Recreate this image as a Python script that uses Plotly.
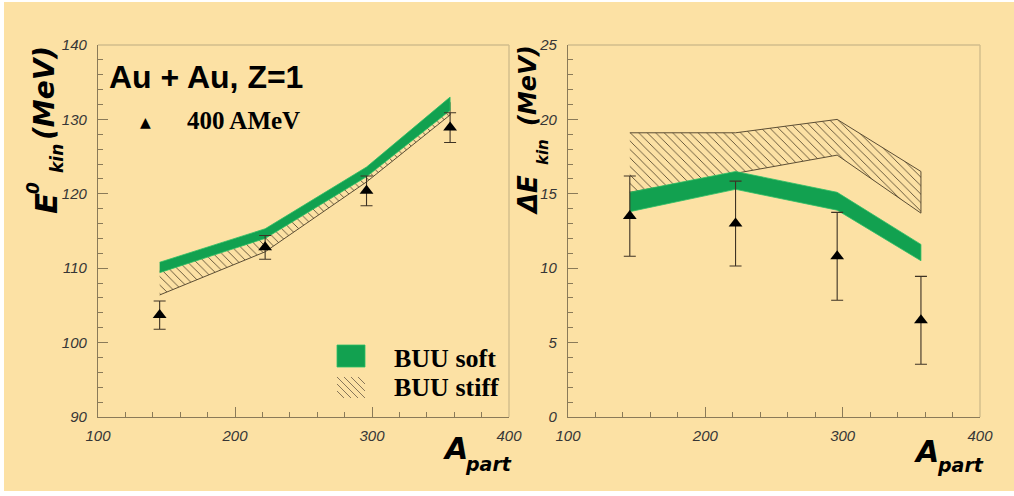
import plotly.graph_objects as go

W, H = 1014, 496

# ---- data -------------------------------------------------------------
band_apart = [145, 222, 296, 357]          # A_part of the BUU calculations
data_apart = [145, 222, 296, 357]          # A_part of the measured points

# mean kinetic energy E0_kin (MeV)
e0_soft_lo = [109.4, 114.0, 122.3, 131.2]
e0_soft_hi = [110.8, 115.3, 123.6, 133.0]
e0_stiff_lo = [106.4, 112.2, 121.6, 130.6]
e0_stiff_hi = [109.6, 114.3, 122.9, 132.3]
e0_data = [103.7, 112.8, 120.4, 128.9]
e0_err = [1.9, 1.6, 2.0, 2.0]

# width Delta E_kin (MeV)
de_soft_lo = [13.8, 15.3, 13.9, 10.5]
de_soft_hi = [15.1, 16.5, 15.1, 11.6]
de_stiff_lo = [15.1, 16.4, 17.6, 13.7]
de_stiff_hi = [19.1, 19.1, 20.0, 16.5]
de_data = [13.5, 13.0, 10.8, 6.5]
de_err = [2.7, 2.85, 2.95, 2.95]

e0_ticks = [90, 100, 110, 120, 130, 140]
de_ticks = [0, 5, 10, 15, 20, 25]
apart_ticks = [100, 200, 300, 400]

# ---- styling ----------------------------------------------------------
BG = "#FCE1A4"
GREEN = "#12A150"
HATCH = "#4f412a"
AXIS = "#8a7a58"
FRAME = "#d2bd8c"
ERR = "#3e3324"
TICKFONT = dict(family="Liberation Sans, Arial", size=15, color="#363636")
TITLE_FAM = "DejaVu Sans"


def px(x):
    return x / W


def py(y):
    return 1 - y / H


def band(xs, lo, hi):
    return list(xs) + list(xs)[::-1], list(lo) + list(hi)[::-1]


def italic_labels(vals):
    return [f"<i>{v}</i>" for v in vals]


fig = go.Figure()


def add_panel(xa, ya, soft_lo, soft_hi, stiff_lo, stiff_hi, vals, errs):
    bx, by = band(band_apart, stiff_lo, stiff_hi)
    fig.add_trace(go.Scatter(
        x=bx, y=by, xaxis=xa, yaxis=ya, mode="lines", fill="toself",
        fillcolor="rgba(0,0,0,0)",
        fillpattern=dict(shape="\\", fgcolor=HATCH, bgcolor="rgba(0,0,0,0)",
                         size=6, solidity=0.14),
        line=dict(color="#4a3d28", width=0.9), showlegend=False, hoverinfo="skip"))
    gx, gy = band(band_apart, soft_lo, soft_hi)
    fig.add_trace(go.Scatter(
        x=gx, y=gy, xaxis=xa, yaxis=ya, mode="lines", fill="toself",
        fillcolor=GREEN, line=dict(color="#2fbf66", width=0.8),
        showlegend=False, hoverinfo="skip"))
    fig.add_trace(go.Scatter(
        x=data_apart, y=vals, xaxis=xa, yaxis=ya, mode="markers",
        marker=dict(symbol="triangle-up", size=12, color="black"),
        error_y=dict(type="data", array=errs, color=ERR, thickness=1.1, width=6),
        showlegend=False))


add_panel("x", "y", e0_soft_lo, e0_soft_hi, e0_stiff_lo, e0_stiff_hi, e0_data, e0_err)
add_panel("x2", "y2", de_soft_lo, de_soft_hi, de_stiff_lo, de_stiff_hi, de_data, de_err)

axis_common = dict(
    showline=True, linecolor=AXIS, linewidth=1.2, mirror=False,
    showgrid=False, zeroline=False, ticks="inside", ticklen=10,
    tickcolor=AXIS, tickwidth=1, tickfont=TICKFONT, automargin=False,
)

ydom = [py(417), py(45)]
fig.update_layout(
    template="none",
    width=W, height=H,
    margin=dict(l=0, r=0, t=0, b=0),
    paper_bgcolor="white",
    plot_bgcolor="rgba(0,0,0,0)",
    showlegend=False,
    xaxis=dict(domain=[px(98), px(509)], range=[100, 400], tickmode="array",
               tickvals=apart_ticks, ticktext=italic_labels(apart_ticks),
               anchor="y", ticklabelstandoff=5,
               minor=dict(ticks="inside", ticklen=5, dtick=20, tickcolor=AXIS),
               **axis_common),
    yaxis=dict(domain=ydom, range=[90, 140], tickmode="array",
               tickvals=e0_ticks, ticktext=italic_labels(e0_ticks), anchor="x",
               ticklabelstandoff=7,
               minor=dict(ticks="inside", ticklen=5, dtick=2, tickcolor=AXIS),
               **axis_common),
    xaxis2=dict(domain=[px(568), px(980)], range=[100, 400], tickmode="array",
                tickvals=apart_ticks, ticktext=italic_labels(apart_ticks),
                anchor="y2", ticklabelstandoff=5,
                minor=dict(ticks="inside", ticklen=5, dtick=20, tickcolor=AXIS),
                **axis_common),
    yaxis2=dict(domain=ydom, range=[0, 25], tickmode="array",
                tickvals=de_ticks, ticktext=italic_labels(de_ticks), anchor="x2",
                ticklabelstandoff=7,
                minor=dict(ticks="inside", ticklen=5, dtick=1, tickcolor=AXIS),
                **axis_common),
)

shapes = [
    # page background inside the thin white border
    dict(type="rect", xref="paper", yref="paper", x0=px(4), x1=1, y0=py(491), y1=py(2),
         fillcolor=BG, line=dict(width=0), layer="below"),
]
# light top / right frame lines of both panels
for xr, yr in (("x domain", "y domain"), ("x2 domain", "y2 domain")):
    shapes.append(dict(type="line", xref=xr, yref=yr, x0=0, x1=1, y0=1, y1=1,
                       line=dict(color=FRAME, width=1.4)))
    shapes.append(dict(type="line", xref=xr, yref=yr, x0=1, x1=1, y0=0, y1=1,
                       line=dict(color=FRAME, width=1.4)))

# legend keys
shapes.append(dict(type="rect", xref="paper", yref="paper",
                   x0=px(337), x1=px(365), y0=py(367), y1=py(345),
                   fillcolor=GREEN, line=dict(color="#2fbf66", width=0.8)))
kx0, kx1, ky0, ky1 = 337, 365, 377, 398
kh = ky1 - ky0
segs = []
c = kx0 - kh
while c < kx1:
    xs_ = max(kx0, c)
    xe_ = min(kx1, c + kh)
    if xe_ > xs_:
        segs.append(f"M{px(xs_):.5f},{py(ky0 + xs_ - c):.5f} L{px(xe_):.5f},{py(ky0 + xe_ - c):.5f}")
    c += 7
shapes.append(dict(type="path", xref="paper", yref="paper", path=" ".join(segs),
                   line=dict(color="#7a6a50", width=0.9)))
fig.update_layout(shapes=shapes)


def ann(text, x, y, size, family, angle=0, xanchor="center", color="black"):
    fig.add_annotation(text=text, x=px(x), y=py(y), xref="paper", yref="paper",
                       xanchor=xanchor, yanchor="middle", showarrow=False,
                       textangle=angle, font=dict(size=size, family=family, color=color))


# panel labels
ann("<b>Au + Au, Z=1</b>", 206, 77, 32, "Liberation Sans, Arial")
ann("▲", 145, 122, 14, "DejaVu Sans")
ann("<b>400 AMeV</b>", 243, 121, 25, "Liberation Serif, Times New Roman")
ann("<b>BUU soft</b>", 392, 358, 26, "Liberation Serif, Times New Roman", xanchor="left")
ann("<b>BUU stiff</b>", 392, 387, 26, "Liberation Serif, Times New Roman", xanchor="left")

# y-axis titles (rotated)
ann("<b><i>E</i></b>", 46, 204, 31, TITLE_FAM, angle=-90)
ann("<b><i>0</i></b>", 33, 188, 17, TITLE_FAM, angle=-90)
ann("<b><i>kin</i></b>", 57, 159, 17, TITLE_FAM, angle=-90)
ann("<b><i>(MeV)</i></b>", 44, 93, 28, TITLE_FAM, angle=-90)

ann("<b><i>ΔE</i></b>", 528, 195, 26, TITLE_FAM, angle=-90)
ann("<b><i>kin</i></b>", 543, 152, 15, TITLE_FAM, angle=-90)
ann("<b><i>(MeV)</i></b>", 528, 86, 24, TITLE_FAM, angle=-90)

# x-axis titles
ann("<b><i>A</i></b>", 455, 448, 30, TITLE_FAM)
ann("<b><i>part</i></b>", 488, 464, 19, TITLE_FAM)
ann("<b><i>A</i></b>", 926, 451, 30, TITLE_FAM)
ann("<b><i>part</i></b>", 960, 465, 19, TITLE_FAM)

fig.write_html("out.html")
